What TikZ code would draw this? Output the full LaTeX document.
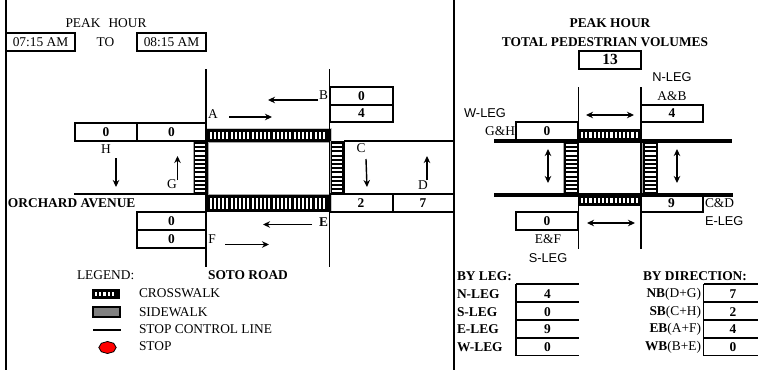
\documentclass[tikz,border=0pt]{standalone}
\usepackage{fontspec}
\setmainfont{Liberation Serif}
\newfontfamily\arialf{Liberation Sans}
\usetikzlibrary{arrows.meta,shapes.geometric}
\tikzset{
  x=1pt,y=-1pt,
  every node/.style={inner sep=0pt,outer sep=0pt},
  txt/.style={font=\fontsize{13.4}{14}\selectfont},
  btxt/.style={font=\fontsize{13.4}{14}\selectfont\bfseries},
  sanstxt/.style={font=\fontsize{12.8}{14}\selectfont\arialf},
  frame/.style={line width=1.6pt},
  road/.style={line width=1.5pt},
  thin box/.style={line width=1.2pt},
  heavy box/.style={line width=1.6pt},
  thick stop/.style={line width=3.4pt},
  flow/.style={line width=1.4pt,-{Stealth[length=7pt,width=6.5pt]}},
  flow2/.style={line width=1.4pt,{Stealth[length=7pt,width=6.5pt]}-{Stealth[length=7pt,width=6.5pt]}},
}
% horizontal crosswalk: x1,y1,x2,y2
\newcommand{\hwalk}[4]{%
  \fill[black] (#1,#2) rectangle (#3,#4);
  \pgfmathsetmacro{\nbars}{int(floor((#3-#1-4)/4.2))}
  \foreach \i in {1,...,\nbars}{
    \fill[white] ({#1+3+(\i-1)*4.2},{#2+3.4}) rectangle ({#1+3+(\i-1)*4.2+2.1},{#4-3});
  }
}
% vertical crosswalk
\newcommand{\vwalk}[4]{%
  \fill[black] (#1,#2) rectangle (#3,#4);
  \fill[gray!70] (#1,#2) rectangle ({#1+1},#4);
  \pgfmathsetmacro{\nbars}{int(floor((#4-#2-3)/4.2))}
  \foreach \i in {1,...,\nbars}{
    \fill[white] ({#1+2.5},{#2+3+(\i-1)*4.2}) rectangle ({#3-2.5},{#2+3+(\i-1)*4.2+2.1});
  }
}
\newcommand{\cell}[6]{% name x1 y1 x2 y2 text
  \draw[thin box] (#2,#3) rectangle (#4,#5);
  \node[btxt] (#1) at ({(#2+#4)/2},{(#3+#5)/2}) {#6};
}
\begin{document}
\begin{tikzpicture}
\useasboundingbox (0,0) rectangle (758,370);
\fill[white] (0,0) rectangle (758,370);
% frame
\coordinate (ft) at (6,0); \coordinate (fb) at (6,370);
\coordinate (mt) at (454,0); \coordinate (mb) at (454,370);
\draw[frame] (ft) -- (fb);
\draw[frame] (mt) -- (mb);
% header
\node[txt] (ph) at (106,23.5) {PEAK\hspace{0.6em}HOUR};
\node[txt] (to) at (105.5,42.5) {TO};
\draw[heavy box] (6,33) rectangle (75,51);
\node[txt] (t1) at (40.5,42.5) {07:15 AM};
\draw[heavy box] (137,33) rectangle (206,51);
\node[txt] (t2) at (171.5,42.5) {08:15 AM};
% crosswalks left
\fill[gray!45] (205,127.5) rectangle (332,142);
\fill[gray!45] (205,194) rectangle (332,212);
\hwalk{206.5}{128.5}{330.5}{141.5}
\hwalk{206.5}{195}{330.5}{211.5}
\vwalk{192.5}{141}{208}{195}
\vwalk{329.5}{141}{344.5}{195}
\fill[white] (208,142) rectangle (329.5,194);
\draw[gray!70,line width=.8pt] (208,142) rectangle (329.5,194);
% roads left
\coordinate (r1t) at (206,69); \coordinate (r1b) at (206,267);
\coordinate (r2t) at (329.5,69); \coordinate (r2b) at (329.5,267);
\draw[road] (r1t) -- (r1b);
\draw[road] (r2t) -- (r2b);
\coordinate (l1a) at (74,194); \coordinate (l1b) at (206,194);
\coordinate (l2a) at (330,194); \coordinate (l2b) at (454,194);
\coordinate (l3a) at (344,141); \coordinate (l3b) at (454,141);
\draw[road] (l1a) -- (l1b);
\draw[road] (l2a) -- (l2b);
\draw[road] (l3a) -- (l3b);
\coordinate (l4a) at (330,212); \coordinate (l4b) at (454,212);
\draw[thin box] (l4a) -- (l4b);
\coordinate (l4c) at (393,194); \coordinate (l4d) at (393,212);
\draw[thin box] (l4c) -- (l4d);
\node[btxt] (v2) at (361,203.5) {2};
\node[btxt] (v7) at (423,203.5) {7};
% count cells left
\cell{vh}{75}{123}{137}{141}{0}
\cell{vg}{137}{123}{206}{141}{0}
\cell{vb}{330}{87}{393}{105}{0}
\cell{va}{330}{105}{393}{122}{4}
\cell{ve}{137}{212}{206}{230}{0}
\cell{vf}{137}{230}{206}{248}{0}
% labels and arrows
\node[txt] (la) at (213,114) {A};
\node[txt] (lb) at (323.5,95.5) {B};
\node[txt] (lc) at (361,148.5) {C};
\node[txt] (ld) at (423,185) {D};
\node[btxt] (le) at (323.5,222) {E};
\node[txt] (lf) at (212,239.5) {F};
\node[txt] (lh) at (106,149) {H};
\node[txt] (lg) at (172,184.5) {G};
\coordinate (aa) at (229,117); \coordinate (ab) at (272,117);
\coordinate (ba) at (318,100); \coordinate (bb) at (268,100);
\coordinate (ea) at (312,224.5); \coordinate (eb) at (263,224.5);
\coordinate (fa) at (225,244.5); \coordinate (fb2) at (269,244.5);
\coordinate (ca) at (366,159); \coordinate (cb) at (367,187);
\coordinate (da) at (427,180); \coordinate (db) at (427,156);
\coordinate (ha) at (116,158); \coordinate (hb) at (116,187);
\coordinate (ga) at (177.5,180); \coordinate (gb) at (177.5,156);
\foreach \p/\q in {aa/ab,ba/bb,ea/eb,fa/fb2,ca/cb,da/db,ha/hb,ga/gb}{\draw[flow] (\p) -- (\q);}
\node[btxt,anchor=west] (oa) at (8,203.5) {ORCHARD AVENUE};
\node[btxt] (sr) at (248,275.5) {SOTO ROAD};
% legend
\node[txt,anchor=west] (lg0) at (77,275.5) {LEGEND:};
\node[txt,anchor=west] (lg1) at (139,293.5) {CROSSWALK};
\node[txt,anchor=west] (lg2) at (139,312) {SIDEWALK};
\node[txt,anchor=west] (lg3) at (139,329) {STOP CONTROL LINE};
\node[txt,anchor=west] (lg4) at (139,346.5) {STOP};
\hwalk{92}{289}{120}{299}
\draw[black,fill=gray,line width=2pt] (93,306.5) rectangle (119.5,317);
\coordinate (sl1) at (93,330); \coordinate (sl2) at (121,330);
\draw[line width=1.8pt] (sl1) -- (sl2);
\node[regular polygon,regular polygon sides=8,draw=black,fill=red,line width=.8pt,minimum width=12pt,xscale=1.45,shape border rotate=22.5] (stp) at (107.5,347.5) {};
% right panel headings
\node[btxt] (rh1) at (610,23.5) {PEAK HOUR};
\node[btxt] (rh2) at (605,42.5) {TOTAL PEDESTRIAN VOLUMES};
\draw[heavy box] (579,51) rectangle (641,69);
\node[font=\fontsize{15.5}{16}\selectfont\bfseries] (tot) at (610,59) {13};
% right crosswalks
\hwalk{578}{129}{642}{141}
\hwalk{578}{195}{642}{205.5}
\vwalk{563}{141}{579}{195}
\vwalk{642}{141}{658}{195}
% right roads
\coordinate (q1t) at (578.5,87); \coordinate (q1b) at (578.5,249);
\coordinate (q2t) at (641,87); \coordinate (q2b) at (641,249);
\draw[road] (q1t) -- (q1b);
\draw[road] (q2t) -- (q2b);
\coordinate (s1a) at (494,141); \coordinate (s1b) at (732,141);
\coordinate (s2a) at (494,195); \coordinate (s2b) at (733,195);
\draw[thick stop] (s1a) -- (s1b);
\draw[thick stop] (s2a) -- (s2b);
\cell{rn}{641}{105}{703}{122}{4}
\cell{rw}{516}{122}{578}{140}{0}
\cell{rs}{516}{212}{578}{230}{0}
\draw[thin box] (641,196) -- (641,212) -- (703,212) -- (703,196);
\node[btxt] (re) at (671.5,203.5) {9};
\node[sanstxt] (nl) at (672,77.5) {N-LEG};
\node[txt] (ab1) at (672,96) {A\&B};
\node[sanstxt] (wl) at (485,113.5) {W-LEG};
\node[txt,anchor=east] (gh1) at (515,131.5) {G\&H};
\node[txt,anchor=west] (cd1) at (705,203.5) {C\&D};
\node[sanstxt,anchor=west] (el) at (705,221.5) {E-LEG};
\node[txt] (ef1) at (548,239.5) {E\&F};
\node[sanstxt] (sl) at (548,258) {S-LEG};
\coordinate (a1a) at (586,115); \coordinate (a1b) at (634,115);
\coordinate (a2a) at (587,223); \coordinate (a2b) at (635,223);
\coordinate (a3a) at (548,149); \coordinate (a3b) at (548,183);
\coordinate (a4a) at (677,149); \coordinate (a4b) at (677,183);
\foreach \p/\q in {a1a/a1b,a2a/a2b,a3a/a3b,a4a/a4b}{\draw[flow2] (\p) -- (\q);}
% by leg
\node[btxt,anchor=west] (bl) at (457,276) {BY LEG:};
\node[btxt,anchor=west] (bl1) at (457,294) {N-LEG};
\node[btxt,anchor=west] (bl2) at (457,312) {S-LEG};
\node[btxt,anchor=west] (bl3) at (457,329) {E-LEG};
\node[btxt,anchor=west] (bl4) at (457,347) {W-LEG};
\draw[thin box] (516,284) -- (516,356);
\foreach \y in {284,302,320,338,355.5}{\draw[thin box] (516,\y) -- (579,\y);}
\node[btxt] (c1) at (547.5,294) {4};
\node[btxt] (c2) at (547.5,312) {0};
\node[btxt] (c3) at (547.5,329) {9};
\node[btxt] (c4) at (547.5,347) {0};
% by direction
\node[btxt,anchor=west] (bd) at (643,276) {BY DIRECTION:};
\node[txt,anchor=east] (d1) at (701,294) {\textbf{NB}(D+G)};
\node[txt,anchor=east] (d2) at (701,312) {\textbf{SB}(C+H)};
\node[txt,anchor=east] (d3) at (701,329) {\textbf{EB}(A+F)};
\node[txt,anchor=east] (d4) at (701,347) {\textbf{WB}(B+E)};
\draw[thin box] (703.5,284) -- (703.5,356);
\foreach \y in {284,302,320,338,355.5}{\draw[thin box] (703.5,\y) -- (758,\y);}
\node[btxt] (e1) at (733,294) {7};
\node[btxt] (e2) at (733,312) {2};
\node[btxt] (e3) at (733,329) {4};
\node[btxt] (e4) at (733,347) {0};
\end{tikzpicture}
\end{document}
